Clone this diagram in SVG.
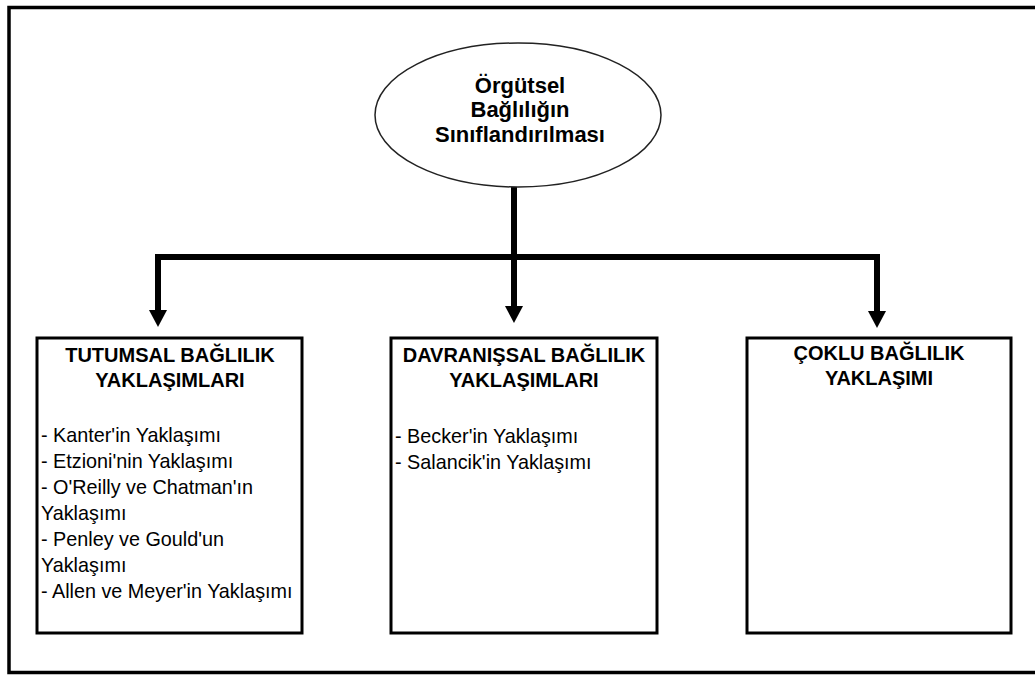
<svg xmlns="http://www.w3.org/2000/svg" width="1035" height="675" viewBox="0 0 1035 675">
  <style>
    .frame { fill: #fff; stroke: #000; stroke-width: 3.5; }
    .box { fill: #fff; stroke: #000; stroke-width: 3; }
    .ell { fill: #fff; stroke: #222; stroke-width: 1.5; }
    .title { font-family: "Liberation Sans", Arial, sans-serif; font-weight: bold; font-size: 22px; fill: #000; text-anchor: middle; }
    .head { font-family: "Liberation Sans", Arial, sans-serif; font-weight: bold; font-size: 20px; fill: #000; text-anchor: middle; }
    .item { font-family: "Liberation Sans", Arial, sans-serif; font-size: 19.8px; fill: #000; }
    .conn { fill: none; stroke: #000; stroke-width: 6; stroke-linejoin: miter; }
  </style>
  <defs>
    <marker id="arrow" markerUnits="userSpaceOnUse" markerWidth="18" markerHeight="18" viewBox="0 0 17 18" refX="1" refY="9" orient="auto-start-reverse">
      <polygon points="0,0 17,9 0,18" fill="#000"/>
    </marker>
  </defs>
  <rect class="frame" x="9" y="7.5" width="1040" height="665"/>

  <g id="connectors">
    <path class="conn" d="M514,187 V307" marker-end="url(#arrow)"/>
    <path class="conn" d="M158,311 V257 H877 V312" marker-start="url(#arrow)" marker-end="url(#arrow)"/>
  </g>

  <g id="root">
    <ellipse class="ell" cx="518" cy="115" rx="143" ry="72"/>
    <text class="title" x="520" y="93">Örgütsel</text>
    <text class="title" x="520" y="117">Bağlılığın</text>
    <text class="title" x="520" y="142">Sınıflandırılması</text>
  </g>

  <g id="tutumsal">
    <rect class="box" x="37" y="338" width="265" height="295"/>
    <text class="head" x="170" y="362">TUTUMSAL BAĞLILIK</text>
    <text class="head" x="170" y="387">YAKLAŞIMLARI</text>
    <text class="item" x="41" y="442">- Kanter'in Yaklaşımı</text>
    <text class="item" x="41" y="468">- Etzioni'nin Yaklaşımı</text>
    <text class="item" x="41" y="494">- O'Reilly ve Chatman'ın</text>
    <text class="item" x="41" y="520">Yaklaşımı</text>
    <text class="item" x="41" y="546">- Penley ve Gould'un</text>
    <text class="item" x="41" y="572">Yaklaşımı</text>
    <text class="item" x="41" y="598">- Allen ve Meyer'in Yaklaşımı</text>
  </g>

  <g id="davranissal">
    <rect class="box" x="391" y="338" width="266" height="295"/>
    <text class="head" x="524" y="362">DAVRANIŞSAL BAĞLILIK</text>
    <text class="head" x="524" y="387">YAKLAŞIMLARI</text>
    <text class="item" x="395" y="443">- Becker'in Yaklaşımı</text>
    <text class="item" x="395" y="469">- Salancik'in Yaklaşımı</text>
  </g>

  <g id="coklu">
    <rect class="box" x="747" y="338" width="264" height="295"/>
    <text class="head" x="879" y="360">ÇOKLU BAĞLILIK</text>
    <text class="head" x="879" y="385">YAKLAŞIMI</text>
  </g>
</svg>
